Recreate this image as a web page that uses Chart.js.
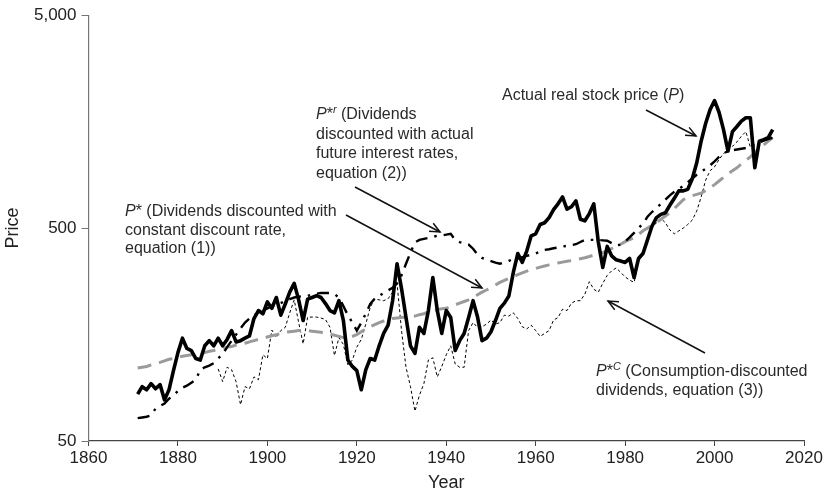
<!DOCTYPE html>
<html>
<head>
<meta charset="utf-8">
<script src="https://cdn.jsdelivr.net/npm/chart.js@4.4.1/dist/chart.umd.min.js"></script>
<style>
html,body{margin:0;padding:0;background:#fff;}
canvas{display:block;}
</style>
</head>
<body>
<canvas id="c" width="827" height="494"></canvas>
<script>
// ---------- DATA ----------
const years = [1871,1872,1873,1874,1875,1876,1877,1878,1879,1880,
1881,1882,1883,1884,1885,1886,1887,1888,1889,1890,
1891,1892,1893,1894,1895,1896,1897,1898,1899,1900,
1901,1902,1903,1904,1905,1906,1907,1908,1909,1910,
1911,1912,1913,1914,1915,1916,1917,1918,1919,1920,
1921,1922,1923,1924,1925,1926,1927,1928,1929,1930,
1931,1932,1933,1934,1935,1936,1937,1938,1939,1940,
1941,1942,1943,1944,1945,1946,1947,1948,1949,1950,
1951,1952,1953,1954,1955,1956,1957,1958,1959,1960,
1961,1962,1963,1964,1965,1966,1967,1968,1969,1970,
1971,1972,1973,1974,1975,1976,1977,1978,1979,1980,
1981,1982,1983,1984,1985,1986,1987,1988,1989,1990,
1991,1992,1993,1994,1995,1996,1997,1998,1999,2000,
2001,2002,2003,2004,2005,2006,2007,2008,2009,2010,
2011,2012,2013];

// Actual real stock price (P)
const priceP = [83,90,87,93,88,92,78,87,107,130,
152,136,133,122,120,140,148,140,152,140,
150,165,146,148,152,156,188,205,198,225,
210,236,195,220,250,275,230,184,232,236,
241,236,221,205,200,228,184,120,112,107,
87,108,122,120,140,160,175,228,340,260,
190,140,129,171,160,205,293,205,160,205,
190,133,148,160,190,228,191,148,152,163,
184,210,222,240,310,380,345,390,460,470,
520,530,560,610,650,700,614,630,671,550,
541,585,650,430,327,410,370,355,350,345,
360,293,360,380,440,510,560,580,590,640,
690,748,748,760,850,1010,1280,1550,1800,1985,
1750,1450,1150,1420,1500,1590,1650,1650,960,1280,
1300,1330,1450];

// P* : dividends discounted with constant discount rate
const pStar = [110,111,112,114,116,117,119,121,122,124,
125,126,127,128,129,130,132,133,135,136,
138,139,141,142,144,146,148,150,152,154,
156,158,160,162,163,164,165,165,165,164,
163,162,160,159,157,155,153,153,155,158,
163,168,172,176,180,183,186,188,189,190,
191,192,193,196,198,202,205,207,209,210,
214,218,222,226,230,236,243,250,256,262,
270,278,284,290,296,302,308,314,319,323,
328,332,336,339,343,346,349,352,355,359,
363,368,373,378,384,392,401,410,420,432,
441,450,467,486,500,515,530,550,570,590,
618,648,680,695,710,720,730,750,775,800,
832,866,900,930,960,1000,1040,1080,1130,1180,
1230,1280,1330];

// P*r : dividends discounted with actual future interest rates
const pStarR = [64,64.5,65,66,71,73,75,79,82,86,
89,91,94,97,108,111,113,116,122,128,
138,148,158,169,180,188,195,200,205,210,
215,218,222,228,232,236,238,240,240,244,
246,248,248,248,245,236,215,195,180,165,
180,198,220,233,240,248,255,262,275,300,
340,384,428,440,445,450,455,460,462,466,
470,440,430,424,418,400,375,362,355,350,
344,340,345,351,358,360,365,370,375,380,
388,395,398,402,405,410,413,416,420,430,
440,440,440,440,438,436,425,414,418,432,
452,475,500,525,565,595,620,650,680,713,
740,763,790,820,855,890,920,950,985,1030,
1080,1120,1150,1160,1170,1180,1190,1210,1240,1260,
1290,1310,1330];

// P*C : consumption-discounted dividends (starts 1889)
const pStarC = [null,null,null,null,null,null,null,null,null,null,
null,null,null,null,null,null,null,null,109,95,
111,108,95,74,90,88,100,97,127,122,
166,153,165,171,200,230,180,143,191,191,
191,189,186,171,126,153,142,114,120,138,
150,177,212,233,230,228,233,250,275,165,
111,90,69,82,93,120,123,100,112,127,
140,115,111,111,165,180,171,172,177,185,
177,180,195,193,200,188,172,168,175,165,
155,160,165,185,190,208,205,222,228,228,
245,280,258,250,275,300,315,325,310,295,
285,278,345,390,440,500,530,555,530,490,
470,485,500,520,545,600,700,840,930,970,
1050,1120,1160,1210,1270,1350,1420,1200,1200,1250,
1280,1310,1330];

const yTickValues = [50, 500, 5000];
const xMin = 1860, xMax = 2020, xStep = 20;

// ---------- CHART ----------
const FONT = "'Liberation Sans', Arial, Helvetica, sans-serif";
const toPts = (vals) => years.map((y, i) => ({x: y, y: vals[i]}));

const annotations = [
  {x: 502, y: 96, lh: 19.5, lines: [[{t:'Actual real stock price ('},{t:'P',i:1},{t:')'}]],
   arrow: [646,110,696,136]},
  {x: 316, y: 115, lh: 19.5, lines: [
     [{t:'P',i:1},{t:'*'},{t:'r',i:1,s:1},{t:' (Dividends'}],
     [{t:'discounted with actual'}],
     [{t:'future interest rates,'}],
     [{t:'equation (2))'}]],
   arrow: [355,187,440,232]},
  {x: 125, y: 212, lh: 18.5, lines: [
     [{t:'P',i:1},{t:'*'},{t:' (Dividends discounted with'}],
     [{t:'constant discount rate,'}],
     [{t:'equation (1))'}]],
   arrow: [346,215,482,288]},
  {x: 596, y: 372, lh: 18.5, lines: [
     [{t:'P',i:1},{t:'*'},{t:'C',i:1,s:1},{t:' (Consumption-discounted'}],
     [{t:'dividends, equation (3))'}]],
   arrow: [705,353,608,301]}
];

const annotPlugin = {
  id: 'annot',
  afterDatasetsDraw(chart) {
    const ctx = chart.ctx;
    const size = 16;
    ctx.save();
    ctx.fillStyle = '#2a2a2a';
    ctx.textBaseline = 'middle';
    ctx.textAlign = 'left';
    for (const a of annotations) {
      a.lines.forEach((runs, li) => {
        let x = a.x;
        const y = a.y + li * a.lh;
        for (const r of runs) {
          const fs = r.s ? size * 0.68 : size;
          ctx.font = (r.i ? 'italic ' : '') + fs + 'px ' + FONT;
          const yy = r.s ? y - size * 0.3 : y;
          ctx.fillText(r.t, x, yy);
          x += ctx.measureText(r.t).width;
        }
      });
      const [x1,y1,x2,y2] = a.arrow;
      ctx.strokeStyle = '#111';
      ctx.lineWidth = 1.5;
      ctx.beginPath();
      ctx.moveTo(x1,y1); ctx.lineTo(x2,y2); ctx.stroke();
      const ang = Math.atan2(y2-y1, x2-x1);
      const L = 11, w = 0.42;
      ctx.beginPath();
      ctx.moveTo(x2 - L*Math.cos(ang - w), y2 - L*Math.sin(ang - w));
      ctx.lineTo(x2, y2);
      ctx.lineTo(x2 - L*Math.cos(ang + w), y2 - L*Math.sin(ang + w));
      ctx.stroke();
    }
    ctx.restore();
  }
};

new Chart(document.getElementById('c'), {
  type: 'line',
  data: {
    datasets: [
      {label: 'P', data: toPts(priceP), borderColor: '#000', borderWidth: 3.6,
       pointRadius: 0, tension: 0, fill: false, borderJoinStyle: 'round'},
      {label: 'P*r', data: toPts(pStarR), borderColor: '#000', borderWidth: 2.4,
       borderDash: [12, 7, 2.5, 7], pointRadius: 0, tension: 0, fill: false},
      {label: 'P*', data: toPts(pStar), borderColor: '#9a9a9a', borderWidth: 3,
       borderDash: [14, 8], pointRadius: 0, tension: 0, fill: false},
      {label: 'P*C', data: toPts(pStarC), borderColor: '#000', borderWidth: 1,
       borderDash: [3, 2.5], pointRadius: 0, tension: 0, fill: false, spanGaps: false}
    ]
  },
  options: {
    responsive: false,
    animation: false,
    layout: {padding: {top: 13, right: 23, left: 0, bottom: 0}},
    plugins: {legend: {display: false}, tooltip: {enabled: false}},
    scales: {
      x: {
        type: 'linear', min: xMin, max: xMax,
        ticks: {stepSize: xStep, color: '#222', font: {family: FONT, size: 17}, padding: 2,
                callback: v => String(v), maxRotation: 0},
        grid: {drawOnChartArea: false, drawTicks: true, tickLength: 5, color: '#444'},
        border: {color: '#444', width: 1.2},
        title: {display: true, text: 'Year', color: '#222', font: {family: FONT, size: 18},
                padding: {top: 0, bottom: 0}},
        afterFit: s => { s.height = 53; }
      },
      y: {
        type: 'logarithmic', min: 50, max: 5000,
        afterBuildTicks: s => { s.ticks = yTickValues.map(v => ({value: v})); },
        ticks: {color: '#222', font: {family: FONT, size: 17}, padding: 5,
                callback: v => Number(v).toLocaleString('en-US')},
        grid: {drawOnChartArea: false, drawTicks: true, tickLength: 7, color: '#777'},
        border: {color: '#777', width: 1.2},
        title: {display: true, text: 'Price', color: '#222', font: {family: FONT, size: 18},
                padding: {top: 2, bottom: 0}},
        afterFit: s => { s.width = 88.5; }
      }
    }
  },
  plugins: [annotPlugin]
});
</script>
</body>
</html>
